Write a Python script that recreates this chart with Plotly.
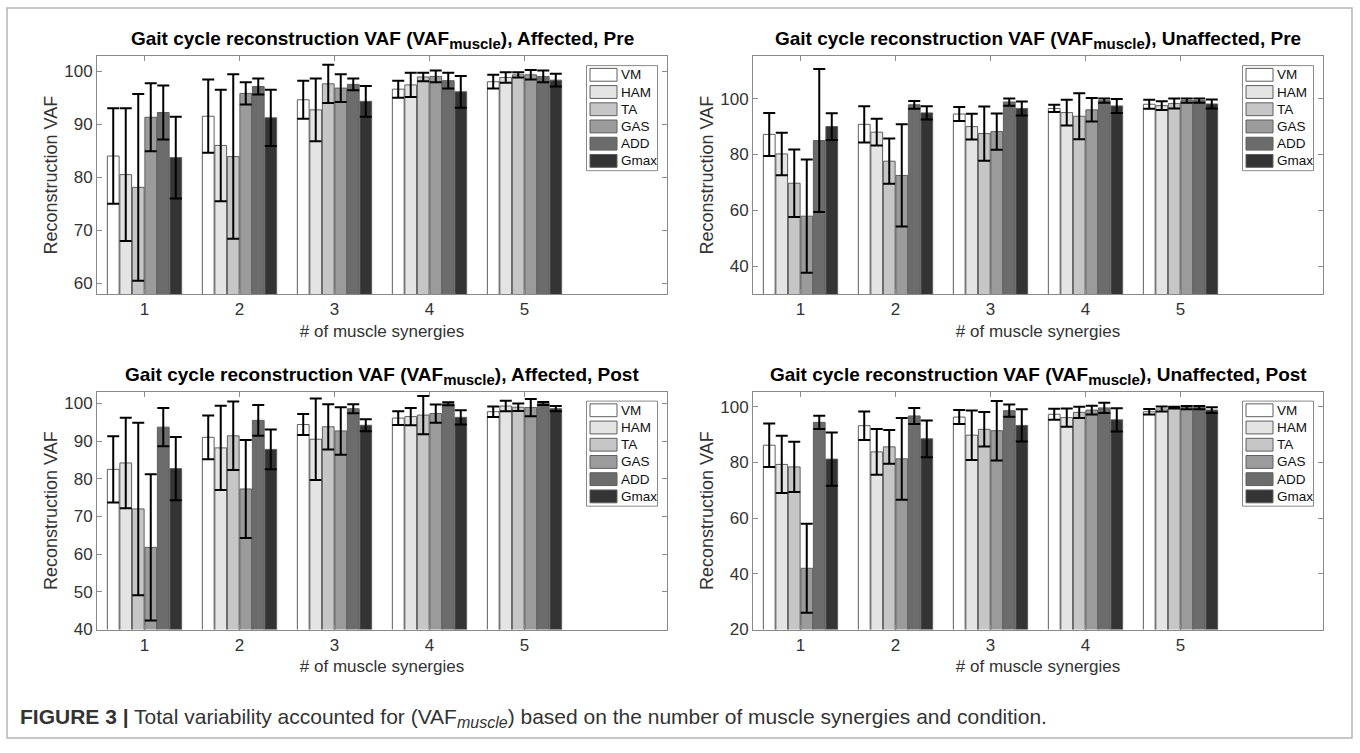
import plotly.graph_objects as go

# ---------------- data ----------------
synergies = [1, 2, 3, 4, 5]
muscles = ["VM", "HAM", "TA", "GAS", "ADD", "Gmax"]
muscle_colors = ["#ffffff", "#e4e4e4", "#c6c6c6", "#9b9b9b", "#6c6c6c", "#343434"]

# rows: VM, HAM, TA, GAS, ADD, Gmax ; columns: 1..5 synergies
aff_pre_mean = [
    [84.0, 91.5, 94.6, 96.6, 98.0],
    [80.5, 86.0, 92.7, 97.4, 98.8],
    [78.1, 83.9, 97.6, 98.9, 99.3],
    [91.3, 95.8, 96.8, 99.0, 99.3],
    [92.2, 97.1, 97.5, 98.2, 99.0],
    [83.7, 91.2, 94.3, 96.1, 98.3],
]
aff_pre_sd = [
    [9.0, 6.9, 3.6, 1.6, 1.3],
    [12.5, 10.5, 5.9, 2.3, 1.0],
    [17.6, 15.5, 3.6, 0.8, 0.5],
    [6.4, 2.1, 2.6, 1.1, 0.9],
    [5.1, 1.5, 1.1, 1.5, 1.1],
    [7.7, 5.3, 2.9, 3.0, 1.2],
]
unaff_pre_mean = [
    [87.2, 90.8, 94.5, 96.5, 98.0],
    [80.2, 88.0, 90.0, 95.0, 97.5],
    [69.7, 77.6, 87.5, 93.7, 98.3],
    [57.9, 72.5, 88.2, 96.0, 99.3],
    [85.0, 97.8, 98.8, 99.3, 99.3],
    [90.0, 94.9, 96.5, 97.4, 98.1],
]
unaff_pre_sd = [
    [7.7, 6.5, 2.5, 1.3, 1.6],
    [7.6, 4.8, 4.6, 4.6, 1.6],
    [12.1, 8.1, 9.7, 8.2, 1.8],
    [20.3, 18.3, 6.5, 4.2, 0.8],
    [25.6, 1.4, 1.3, 0.8, 0.8],
    [4.8, 2.4, 2.5, 2.5, 1.6],
]
aff_post_mean = [
    [82.5, 91.0, 94.4, 96.1, 97.8],
    [84.2, 88.2, 90.5, 96.5, 99.3],
    [72.0, 91.4, 93.8, 96.9, 99.0],
    [61.8, 77.3, 92.7, 97.3, 98.9],
    [93.7, 95.5, 98.6, 99.9, 100.0],
    [82.7, 87.8, 94.2, 96.3, 98.6],
]
aff_post_sd = [
    [8.8, 5.8, 2.8, 1.8, 1.4],
    [12.0, 11.2, 10.8, 2.3, 1.4],
    [22.9, 9.1, 6.0, 5.1, 1.0],
    [19.4, 13.0, 6.3, 2.4, 2.3],
    [5.1, 4.1, 1.2, 0.4, 0.4],
    [8.4, 5.3, 1.6, 1.9, 0.7],
]
unaff_post_mean = [
    [86.2, 93.2, 96.3, 97.3, 98.2],
    [79.3, 83.8, 89.8, 96.1, 99.2],
    [78.4, 85.6, 91.9, 98.0, 99.7],
    [42.0, 81.3, 91.4, 98.8, 99.7],
    [94.4, 96.7, 98.6, 99.6, 99.7],
    [81.2, 88.5, 93.3, 95.3, 98.8],
]
unaff_post_sd = [
    [7.8, 5.1, 2.5, 2.0, 1.0],
    [10.3, 8.2, 8.9, 3.3, 0.9],
    [9.0, 6.1, 6.2, 2.0, 0.3],
    [16.0, 14.7, 10.7, 1.6, 0.6],
    [2.4, 2.9, 2.2, 1.8, 0.6],
    [9.6, 6.6, 5.8, 4.2, 1.0],
]

panel_titles = ["Affected, Pre", "Unaffected, Pre", "Affected, Post", "Unaffected, Post"]

# ---------------- layout helpers ----------------
W, H = 1360, 753
FONT = "Liberation Sans, Arial, Helvetica, sans-serif"
AXC = "#8a8a8a"
TXT = "#333333"
EDGE = "#5f5f5f"


def fx(p):
    return p / W


def fy(p):
    return 1 - p / H


panels = [
    dict(title=panel_titles[0], mean=aff_pre_mean, sd=aff_pre_sd,
         x0=97, x1=667, y0=57, y1=298, yr=[58, 102.8], dt=10),
    dict(title=panel_titles[1], mean=unaff_pre_mean, sd=unaff_pre_sd,
         x0=753, x1=1323, y0=57, y1=298, yr=[30, 115.2], dt=20),
    dict(title=panel_titles[2], mean=aff_post_mean, sd=aff_post_sd,
         x0=97, x1=667, y0=397, y1=638, yr=[40, 103.1], dt=10),
    dict(title=panel_titles[3], mean=unaff_post_mean, sd=unaff_post_sd,
         x0=753, x1=1323, y0=397, y1=638, yr=[20, 105.4], dt=20),
]

fig = go.Figure()
annotations = []
shapes = []
layout_updates = {}

for i, p in enumerate(panels):
    sfx = "" if i == 0 else str(i + 1)
    for m, (name, col) in enumerate(zip(muscles, muscle_colors)):
        fig.add_trace(go.Bar(
            x=synergies, y=p["mean"][m], name=name, showlegend=False,
            marker=dict(color=col, line=dict(color=EDGE, width=1)),
            error_y=dict(type="data", array=p["sd"][m], color="black",
                         thickness=2, width=6),
            xaxis="x" + sfx, yaxis="y" + sfx,
        ))
    layout_updates["xaxis" + sfx] = dict(
        domain=[fx(p["x0"]), fx(p["x1"])], anchor="y" + sfx,
        range=[0.5, 6.5], tickvals=synergies, ticktext=[str(s) for s in synergies],
        showline=True, mirror="allticks", linecolor=AXC, linewidth=1,
        ticks="inside", ticklen=5, tickcolor=AXC, showgrid=False, zeroline=False,
        tickfont=dict(size=17, color=TXT, family=FONT),
        title=dict(text="# of muscle synergies", font=dict(size=17, color=TXT, family=FONT),
                   standoff=6),
    )
    layout_updates["yaxis" + sfx] = dict(
        domain=[fy(p["y1"]), fy(p["y0"])], anchor="x" + sfx,
        range=p["yr"], dtick=p["dt"], tick0=0,
        showline=True, mirror="allticks", linecolor=AXC, linewidth=1,
        ticks="inside", ticklen=5, tickcolor=AXC, showgrid=False, zeroline=False,
        tickfont=dict(size=17, color=TXT, family=FONT),
        title=dict(text="Reconstruction VAF", font=dict(size=18, color=TXT, family=FONT),
                   standoff=1),
    )
    # panel title
    annotations.append(dict(
        text="<b>Gait cycle reconstruction VAF (VAF<sub><span style='font-size:15px'>muscle</span></sub>), "
             + p["title"] + "</b>",
        x=fx((p["x0"] + p["x1"]) / 2), y=fy(p["y0"] - 2), xref="paper", yref="paper",
        xanchor="center", yanchor="bottom", showarrow=False,
        font=dict(size=19, color="black", family=FONT),
    ))
    # legend box (MATLAB style, wide swatches)
    shapes.append(dict(type="rect", xref="paper", yref="paper",
                       x0=fx(p["x1"] - 80.5), x1=fx(p["x1"] - 9.5),
                       y0=fy(p["y0"] + 116), y1=fy(p["y0"] + 9.5),
                       line=dict(color="#8a8a8a", width=1), fillcolor="white"))
    for k, (name, col) in enumerate(zip(muscles, muscle_colors)):
        cy = p["y0"] + 18.8 + 17.45 * k
        shapes.append(dict(type="rect", xref="paper", yref="paper",
                           x0=fx(p["x1"] - 77), x1=fx(p["x1"] - 50),
                           y0=fy(cy + 6.5), y1=fy(cy - 6.5),
                           line=dict(color=EDGE, width=1), fillcolor=col))
        annotations.append(dict(
            text=name, x=fx(p["x1"] - 48), y=fy(cy), xref="paper", yref="paper",
            xanchor="left", yanchor="middle", showarrow=False,
            font=dict(size=13.5, color="#111111", family=FONT),
        ))

annotations.append(dict(
    text="<b>FIGURE 3 |</b> Total variability accounted for "
         "(VAF<sub><i><span style='font-size:16px'>muscle</span></i></sub>) "
         "based on the number of muscle synergies and condition.",
    x=fx(18), y=fy(728), xref="paper", yref="paper", xanchor="left", yanchor="middle",
    showarrow=False, font=dict(size=21, color=TXT, family=FONT),
))

# outer figure frame
shapes.append(dict(type="rect", xref="paper", yref="paper",
                   x0=fx(7), x1=fx(1352), y0=fy(748), y1=fy(8),
                   line=dict(color="#b5b5b5", width=1.5), fillcolor="rgba(0,0,0,0)",
                   layer="below"))

fig.update_layout(**layout_updates)
fig.update_layout(
    width=W, height=H, margin=dict(l=0, r=0, t=0, b=0),
    paper_bgcolor="white", plot_bgcolor="white", showlegend=False,
    barmode="group", bargap=0.21, bargroupgap=0.06,
    font=dict(family=FONT, color=TXT),
    annotations=annotations, shapes=shapes,
)

fig.write_html("out.html", config={"displayModeBar": False},
               post_script="document.body.style.margin='0';document.body.style.overflow='hidden';")
